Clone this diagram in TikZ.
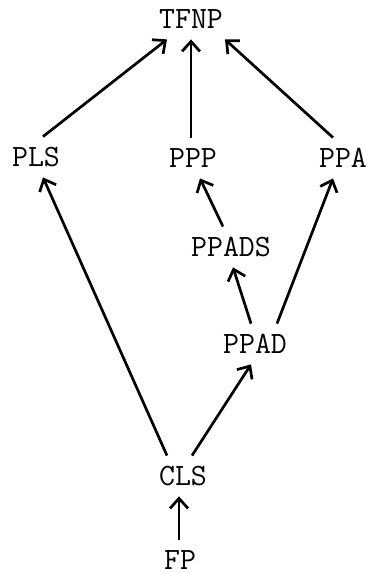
\documentclass[tikz,border=0pt]{standalone}
\usetikzlibrary{arrows.meta}
\begin{document}
\begin{tikzpicture}[x=0.5pt,y=-0.5pt,
  cls/.style={font=\fontsize{15.5}{18}\selectfont\ttfamily,
    text height=9pt, text depth=0pt, inner xsep=2pt, inner ysep=5.5pt},
  arr/.style={-{Straight Barb[length=5pt,width=9pt]}, line width=1.35pt}]
  \useasboundingbox (0,0) rectangle (368,573);
  % complexity classes
  \node[cls] (tfnp)  at (191,19)  {TFNP};
  \node[cls] (pls)   at (36,157)  {PLS};
  \node[cls] (ppp)   at (193,158) {PPP};
  \node[cls] (ppa)   at (343,158) {PPA};
  \node[cls] (ppads) at (231,247) {PPADS};
  \node[cls] (ppad)  at (255,344) {PPAD};
  \node[cls] (clsn)  at (183,476) {CLS};
  \node[cls] (fp)    at (180,560) {FP};
  % inclusions
  \draw[arr] ([xshift=3.5pt]pls.north) -- ([xshift=-12pt]tfnp.south);
  \draw[arr] ([xshift=-1pt]ppp.north) -- ([xshift=-1pt]ppp.north |- tfnp.south);
  \draw[arr] ([xshift=-5pt]ppa.north) -- ([xshift=17pt]tfnp.south);
  \draw[arr] ([xshift=-4pt]ppads.north) -- ([xshift=3.5pt]ppp.south);
  \draw[arr] ([xshift=-2pt]ppad.north) -- ([xshift=1pt]ppads.south);
  \draw[arr] ([xshift=11pt]ppad.north) -- ([xshift=-5pt]ppa.south);
  \draw[arr] ([xshift=-8pt]clsn.north) -- ([xshift=3.5pt]pls.south);
  \draw[arr] ([xshift=4.5pt]clsn.north) -- ([xshift=-2pt]ppad.south);
  \draw[arr] ([xshift=-0.5pt]fp.north) -- ([xshift=-0.5pt]fp.north |- clsn.south);
\end{tikzpicture}
\end{document}
